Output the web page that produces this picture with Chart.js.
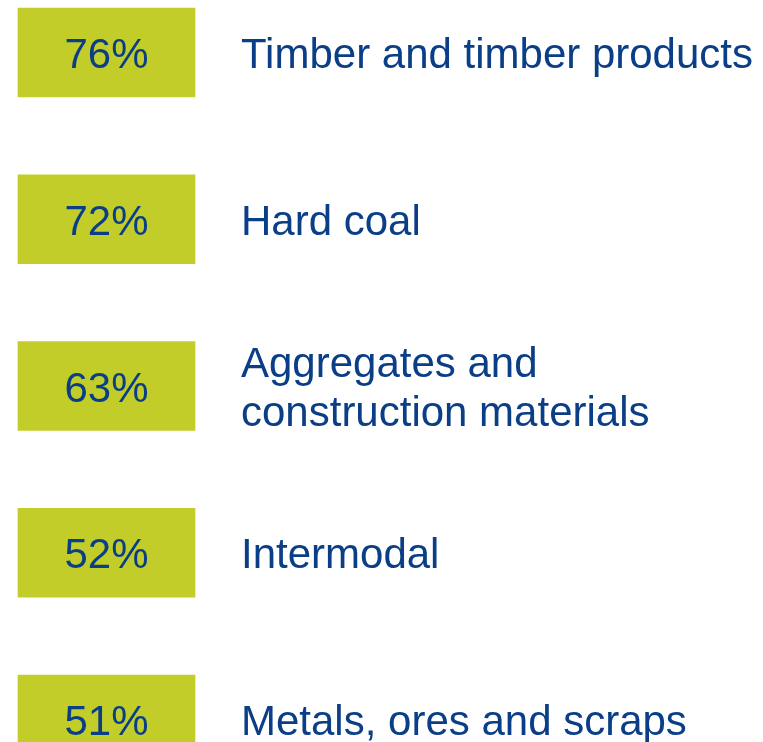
<!DOCTYPE html>
<html>
<head>
<meta charset="utf-8">
<script src="https://cdn.jsdelivr.net/npm/chart.js@4"></script>
<style>
  html, body { margin: 0; padding: 0; background: #fff; }
  #wrap { width: 763px; height: 742px; position: relative; }
</style>
</head>
<body>
<div id="wrap"><canvas id="shareChart"></canvas></div>
<script>
var categories = [
    ['Timber and timber products'],
    ['Hard coal'],
    ['Aggregates and', 'construction materials'],
    ['Intermodal'],
    ['Metals, ores and scraps']
];
var shares = [76, 72, 63, 52, 51];
var boxes = [1, 1, 1, 1, 1]; // every tile has the same size

var GREEN = '#c2cd2a';
var BLUE = '#0a3f87';
var FONT = '"Liberation Sans", Arial, sans-serif';

// write the percentage in the tile and the label beside it
var tileText = {
    id: 'tileText',
    afterDatasetsDraw: function (chart) {
        var ctx = chart.ctx;
        var meta = chart.getDatasetMeta(0);
        ctx.save();
        ctx.fillStyle = BLUE;
        ctx.textBaseline = 'middle';
        meta.data.forEach(function (bar, i) {
            ctx.font = '42px ' + FONT;
            ctx.textAlign = 'center';
            ctx.fillText(shares[i] + '%', (bar.x + bar.base) / 2, bar.y + 4);

            ctx.font = '42px ' + FONT;
            ctx.textAlign = 'left';
            var lines = categories[i];
            var lh = 49;
            var y0 = bar.y - (lines.length - 1) * lh / 2;
            lines.forEach(function (line, k) {
                ctx.fillText(line, bar.x + 46, y0 + k * lh + 4);
            });
        });
        ctx.restore();
    }
};

var ctx = document.getElementById('shareChart').getContext('2d');
var shareChart = new Chart(ctx, {
    type: 'bar',
    data: {
        labels: categories,
        datasets: [{
            data: boxes,
            backgroundColor: GREEN,
            borderWidth: 0,
            barThickness: 89,
            clip: false
        }]
    },
    options: {
        indexAxis: 'y',
        responsive: true,
        maintainAspectRatio: false,
        animation: false,
        layout: { padding: { left: 18, right: 0, top: 52.5, bottom: 22.5 } },
        plugins: { legend: { display: false }, tooltip: { enabled: false } },
        scales: {
            x: { display: false, min: 0, max: 745 / 177 },
            y: { display: false, offset: false }
        }
    },
    plugins: [tileText]
});
</script>
</body>
</html>
